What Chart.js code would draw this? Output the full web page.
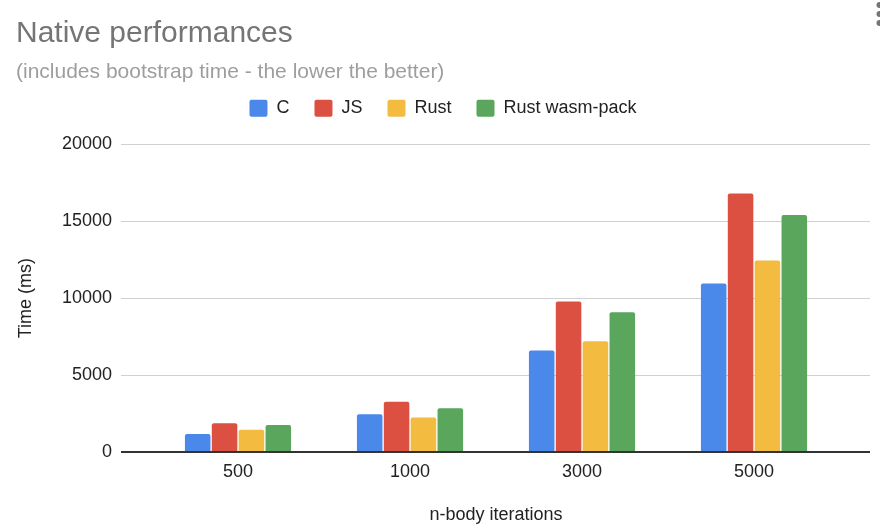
<!DOCTYPE html>
<html>
<head>
<meta charset="utf-8">
<title>Native performances</title>
<script src="https://cdn.jsdelivr.net/npm/chart.js@4/dist/chart.umd.min.js"></script>
<style>
    html, body {margin: 0; padding: 0; background: #fff;}
    #wrap {width: 880px; height: 530px;}
</style>
</head>
<body>
<div id="wrap"><canvas id="chart" width="880" height="530"></canvas></div>
<script>
const categories = ['500', '1000', '3000', '5000'];
const cTimes = [1170, 2450, 6600, 10950];
const jsTimes = [1870, 3260, 9780, 16790];
const rustTimes = [1450, 2240, 7190, 12440];
const wasmPackTimes = [1760, 2850, 9080, 15400];
const yTicks = [0, 5000, 10000, 15000, 20000];

const FONT = "'Liberation Sans', Arial, sans-serif";
const gridColor = (ctx) => ctx.tick && ctx.tick.value === 0 ? '#333333' : '#d0d0d0';
const gridWidth = (ctx) => ctx.tick && ctx.tick.value === 0 ? 2 : 1;

// push the plot a bit further below the legend
const legendGap = {
    id: 'legendGap',
    beforeInit(chart) {
        const legend = chart.legend;
        if (!legend) return;
        const fit = legend.fit;
        legend.fit = function () {
            fit.call(this);
            this.height += 17;
        };
    }
};

// the little "more" menu dots in the corner
const menuDots = {
    id: 'menuDots',
    afterDraw(chart) {
        const ctx = chart.ctx;
        ctx.save();
        ctx.fillStyle = '#757575';
        [5, 14, 23].forEach(y => {
            ctx.beginPath();
            ctx.arc(879.5, y, 3, 0, Math.PI * 2);
            ctx.fill();
        });
        ctx.restore();
    }
};

const useTicks = (scale) => {
    scale.ticks = yTicks.map(v => ({value: v}));
};

const config = {
    type: 'bar',
    data: {
        labels: categories,
        datasets: [
            {label: 'C', data: cTimes, backgroundColor: '#4a88ea'},
            {label: 'JS', data: jsTimes, backgroundColor: '#db5040'},
            {label: 'Rust', data: rustTimes, backgroundColor: '#f3bc41'},
            {label: 'Rust wasm-pack', data: wasmPackTimes, backgroundColor: '#59a65c'},
        ].map(d => Object.assign(d, {
            borderWidth: 0,
            borderRadius: 2,
            categoryPercentage: 0.625,
            barPercentage: 0.95,
            yAxisID: 'y',
        })),
    },
    options: {
        responsive: false,
        animation: false,
        layout: {padding: {left: 16, right: 10, top: 0, bottom: 0}},
        scales: {
            x: {
                grid: {display: false, drawTicks: false},
                border: {display: false},
                ticks: {color: '#222', padding: 9, font: {family: FONT, size: 18}},
                title: {
                    display: true,
                    text: 'n-body iterations',
                    color: '#222',
                    font: {family: FONT, size: 18},
                    padding: {top: 0, bottom: 4},
                },
                afterFit: (scale) => { scale.height = 78; },
            },
            y: {
                position: 'left',
                min: 0,
                max: 20000,
                afterBuildTicks: useTicks,
                grid: {color: gridColor, lineWidth: gridWidth, tickLength: 31, tickColor: gridColor, tickWidth: gridWidth},
                border: {display: false},
                ticks: {
                    color: '#222',
                    padding: 9,
                    font: {family: FONT, size: 18},
                    callback: (v) => String(v),
                },
                title: {
                    display: true,
                    text: 'Time (ms)',
                    color: '#222',
                    font: {family: FONT, size: 18},
                    padding: {top: -1, bottom: 0},
                },
                afterFit: (scale) => { scale.width = 136; },
            },
            y2: {
                position: 'right',
                min: 0,
                max: 20000,
                afterBuildTicks: useTicks,
                grid: {
                    drawOnChartArea: false,
                    color: gridColor,
                    lineWidth: gridWidth,
                    tickLength: 30,
                    tickColor: gridColor,
                    tickWidth: gridWidth,
                },
                border: {display: false},
                ticks: {display: false},
                afterFit: (scale) => { scale.width = 30; },
            },
        },
        plugins: {
            title: {
                display: true,
                text: 'Native performances',
                align: 'start',
                color: '#757575',
                font: {family: FONT, size: 30, weight: 'normal'},
                padding: {top: 16, bottom: 0},
            },
            subtitle: {
                display: true,
                text: '(includes bootstrap time - the lower the better)',
                align: 'start',
                color: '#9e9e9e',
                font: {family: FONT, size: 21},
                padding: {top: 8, bottom: -11},
            },
            legend: {
                position: 'top',
                align: 'center',
                labels: {
                    color: '#222',
                    font: {family: FONT, size: 18},
                    boxWidth: 18,
                    boxHeight: 17,
                    padding: 25,
                    useBorderRadius: true,
                    borderRadius: 2,
                },
            },
            tooltip: {enabled: false},
        },
    },
    plugins: [legendGap, menuDots],
};

new Chart(document.getElementById('chart'), config);
</script>
</body>
</html>
